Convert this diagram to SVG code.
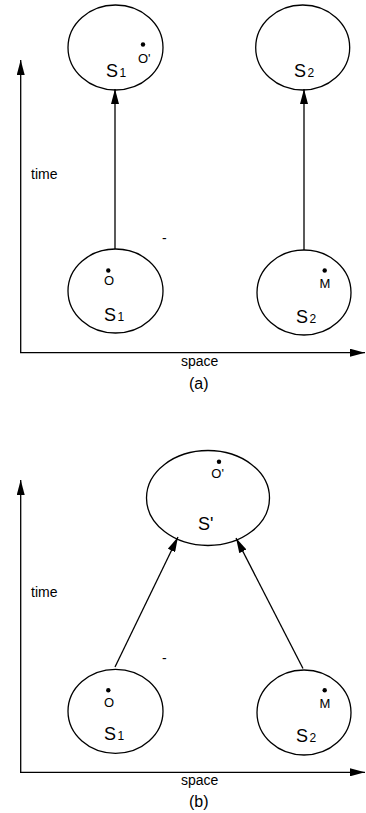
<svg xmlns="http://www.w3.org/2000/svg" width="366" height="813" viewBox="0 0 366 813">
<style>
.e{fill:none;stroke:#000;stroke-width:1.3}
.l{stroke:#000;stroke-width:1.3;fill:none}
.t{font-family:"Liberation Sans",Arial,sans-serif;fill:#000}
.s{font-size:18px}
.sub{font-size:12px}
.p{font-size:13px}
.a{font-size:14px}
.c{font-size:16px}
.d{fill:#000}
</style>
<defs>
<marker id="ah" markerWidth="15" markerHeight="8" refX="15" refY="4" orient="auto" markerUnits="userSpaceOnUse">
<path d="M0,0 L15,4 L0,8 Z" fill="#000"/>
</marker>
</defs>
<g id="axes-a">
<line class="l" x1="20.7" y1="353" x2="20.7" y2="60" marker-end="url(#ah)"/>
<line class="l" x1="20" y1="352.7" x2="365" y2="352.7" marker-end="url(#ah)"/>
<text class="t a" x="31" y="179">time</text>
<text class="t a" x="181" y="366">space</text>
<text class="t c" x="189" y="389">(a)</text>
<text class="t a" x="162" y="243">-</text>
</g>
<g id="axes-b">
<line class="l" x1="20.7" y1="773" x2="20.7" y2="480" marker-end="url(#ah)"/>
<line class="l" x1="20" y1="772.3" x2="365" y2="772.3" marker-end="url(#ah)"/>
<text class="t a" x="31" y="597">time</text>
<text class="t a" x="181" y="785">space</text>
<text class="t c" x="189" y="807">(b)</text>
<text class="t a" x="162" y="663">-</text>
</g>
<g id="connectors">
<line class="l" x1="115" y1="249" x2="115" y2="89" marker-end="url(#ah)"/>
<line class="l" x1="304" y1="250" x2="304" y2="89" marker-end="url(#ah)"/>
<line class="l" x1="115" y1="667" x2="178" y2="537" marker-end="url(#ah)"/>
<line class="l" x1="303" y1="668.5" x2="236" y2="538" marker-end="url(#ah)"/>
</g>
<g id="S1-top">
<ellipse class="e" cx="115.5" cy="47.5" rx="47.5" ry="42.5"/>
<circle class="d" cx="143" cy="44.5" r="2.2"/>
<text class="t p" x="138" y="63">O'</text>
<text class="t s" x="106" y="77">S</text><text class="t sub" x="119.5" y="77">1</text>
</g>
<g id="S2-top">
<ellipse class="e" cx="302.7" cy="47.5" rx="47" ry="42.5"/>
<text class="t s" x="294" y="76.7">S</text><text class="t sub" x="307.5" y="76.7">2</text>
</g>
<g id="S1-a">
<ellipse class="e" cx="115.5" cy="291" rx="47.5" ry="42"/>
<circle class="d" cx="108.3" cy="270.5" r="2.2"/>
<text class="t p" x="104" y="285">O</text>
<text class="t s" x="104" y="320.7">S</text><text class="t sub" x="117.5" y="320.7">1</text>
</g>
<g id="S2-a">
<ellipse class="e" cx="304" cy="292.5" rx="47" ry="42.5"/>
<circle class="d" cx="324.7" cy="270.5" r="2.2"/>
<text class="t p" x="319.5" y="288">M</text>
<text class="t s" x="296" y="322.7">S</text><text class="t sub" x="309.5" y="322.7">2</text>
</g>
<g id="Sprime">
<ellipse class="e" cx="208" cy="498" rx="61.5" ry="47.5"/>
<circle class="d" cx="219" cy="461.7" r="2.2"/>
<text class="t p" x="211.3" y="478">O'</text>
<text class="t s" x="198" y="530">S'</text>
</g>
<g id="S1-b">
<ellipse class="e" cx="115.5" cy="711.3" rx="47.5" ry="42"/>
<circle class="d" cx="108.3" cy="690.3" r="2.2"/>
<text class="t p" x="104" y="706.7">O</text>
<text class="t s" x="104" y="740">S</text><text class="t sub" x="117.5" y="740">1</text>
</g>
<g id="S2-b">
<ellipse class="e" cx="304" cy="712.5" rx="47" ry="42.5"/>
<circle class="d" cx="324.7" cy="690.3" r="2.2"/>
<text class="t p" x="319.5" y="708.3">M</text>
<text class="t s" x="296" y="741.7">S</text><text class="t sub" x="309.5" y="741.7">2</text>
</g>
</svg>
